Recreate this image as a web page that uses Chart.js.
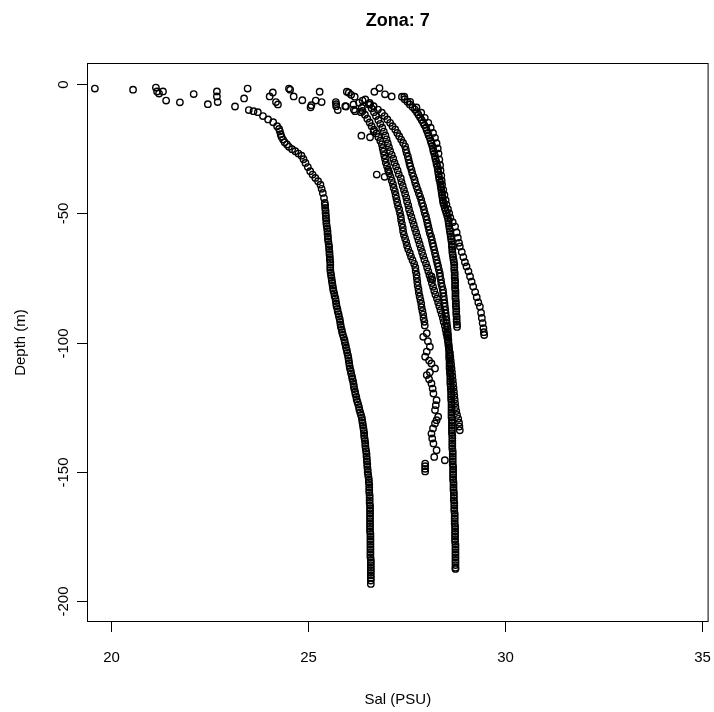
<!DOCTYPE html>
<html>
<head>
<meta charset="utf-8">
<script src="https://cdn.jsdelivr.net/npm/chart.js@4/dist/chart.umd.min.js"></script>
<style>
  html, body { margin: 0; padding: 0; background: #fff; overflow: hidden; }
  canvas { display: block; }
</style>
</head>
<body>
<canvas id="salChart" width="714" height="712"></canvas>
<script>
// axis ticks
const xTicks = [20, 25, 30, 35];
const yTicks = [0, -50, -100, -150, -200];

// [salinity, depth]
const surfacePts = [[19.59,-1.9],[20.56,-2.3],[21.14,-1.5],[21.17,-3.0],[21.22,-3.8],[21.32,-3.0],[21.40,-6.5],[21.75,-7.2],[22.10,-4.0],[22.46,-7.9],[22.69,-3.0],[22.69,-4.9],[22.71,-7.1],[23.15,-8.8],[23.38,-5.7],[23.47,-1.9],[24.03,-4.9],[24.11,-3.4],[24.19,-7.1],[24.24,-8.0],[24.52,-1.9],[24.55,-2.3],[24.64,-4.9],[24.86,-6.4],[25.07,-9.1],[25.09,-8.3],[25.20,-6.5],[25.30,-3.1],[25.35,-7.1],[25.71,-7.1],[25.72,-8.7],[25.72,-7.9],[25.76,-10.2],[25.95,-8.7],[25.97,-8.8],[25.99,-3.1],[26.04,-3.5],[26.10,-4.3],[26.16,-8.0],[26.19,-5.0],[26.17,-10.0],[26.20,-10.6],[26.35,-11.0],[26.37,-9.3],[26.39,-6.5],[26.30,-7.4],[26.58,-8.0],[26.69,-3.1],[26.82,-1.7],[26.96,-4.1],[27.13,-4.9],[26.36,-20.1],[26.58,-20.7],[26.67,-18.4],[26.75,-35.1],[26.95,-36.0],[27.05,-33.8]];

const castA = [[23.50,-10.2],[23.62,-10.6],[23.73,-11.0],[23.86,-12.5],[23.99,-13.8],[24.12,-14.9],[24.22,-16.4],[24.27,-17.5],[24.29,-18.4],[24.31,-19.5],[24.33,-20.5],[24.37,-21.6],[24.41,-22.6],[24.47,-23.5],[24.52,-24.4],[24.60,-25.3],[24.68,-26.1],[24.76,-27.0],[24.84,-27.8],[24.89,-29.2],[24.94,-30.6],[25.00,-32.2],[25.06,-33.8],[25.12,-35.1],[25.19,-36.4],[25.26,-37.7],[25.32,-39.0],[25.35,-40.6],[25.38,-42.2],[25.41,-44.2],[25.43,-46.1],
  [25.44,-47],[25.44,-48],[25.45,-49],[25.45,-50],[25.46,-51],[25.46,-52],[25.47,-53],[25.47,-54],[25.48,-55],[25.49,-56],[25.50,-57],[25.50,-58],[25.51,-59],[25.51,-60],[25.52,-61],[25.53,-62],[25.54,-63],[25.54,-64],[25.55,-65],[25.55,-66],[25.56,-67],[25.56,-68],[25.57,-69],[25.57,-70],[25.57,-71],[25.57,-72],[25.58,-73],[25.59,-74],[25.60,-75],[25.61,-76],[25.62,-77],[25.63,-78],[25.64,-79],[25.65,-80],
  [25.67,-81],[25.68,-82],[25.70,-83],[25.71,-84],[25.72,-85],[25.73,-86],[25.75,-87],[25.76,-88],[25.78,-89],[25.79,-90],[25.81,-91],[25.82,-92],[25.83,-93],[25.84,-94],[25.86,-95],[25.87,-96],[25.89,-97],[25.91,-98],[25.93,-99],[25.94,-100],[25.96,-101],[25.97,-102],[25.99,-103],[26.00,-104],[26.02,-105],[26.03,-106],[26.04,-107],[26.05,-108],[26.06,-109],[26.07,-110],
  [26.09,-111],[26.10,-112],[26.12,-113],[26.13,-114],[26.15,-115],[26.16,-116],[26.17,-117],[26.18,-118],[26.20,-119],[26.21,-120],[26.23,-121],[26.24,-122],[26.26,-123],[26.28,-124],[26.30,-125],[26.31,-126],[26.33,-127],[26.35,-128],[26.37,-129],[26.38,-130],[26.39,-131],[26.40,-132],[26.41,-133],[26.42,-134],[26.43,-135],[26.43,-136],[26.44,-137],[26.45,-138],[26.46,-139],[26.46,-140],
  [26.47,-141],[26.48,-142],[26.49,-143],[26.49,-144],[26.50,-145],[26.50,-146],[26.51,-147],[26.51,-148],[26.52,-149],[26.52,-150],[26.53,-151],[26.54,-152],[26.55,-153],[26.55,-154],[26.56,-155],[26.56,-156],[26.56,-157],[26.56,-158],[26.57,-159],[26.57,-160],[26.57,-161],[26.57,-162],[26.58,-163],[26.58,-164],[26.58,-165],[26.58,-166],[26.58,-167],[26.58,-168],[26.58,-169],[26.58,-170],
  [26.58,-171],[26.58,-172],[26.58,-173],[26.59,-174],[26.59,-175],[26.59,-176],[26.59,-177],[26.59,-178],[26.59,-179],[26.59,-180],[26.59,-181],[26.59,-182],[26.59,-183],[26.60,-184],[26.60,-185],[26.60,-186],[26.60,-187],[26.60,-188],[26.60,-189],[26.60,-190],[26.60,-191],[26.60,-192],[26.60,-193.3]];

const castB = [[26.39,-10.5],[26.45,-12],[26.51,-13.5],[26.57,-15],[26.62,-16.4],[26.68,-17.8],[26.74,-19.2],[26.79,-20.6],[26.84,-22],[26.88,-23.4],[26.90,-24.8],[26.92,-26.2],[26.94,-27.6],[26.96,-29],[26.98,-30.4],[27.01,-31.8],[27.04,-33.2],[27.07,-34.6],[27.10,-36],[27.13,-37.4],[27.16,-38.8],[27.18,-40.2],[27.21,-41.6],[27.23,-43],[27.25,-44.4],[27.27,-45.8],[27.29,-47.2],[27.32,-48.6],[27.34,-50],[27.36,-51.4],
  [27.37,-52.8],[27.39,-54.2],[27.41,-55.6],[27.42,-57],[27.44,-58.4],[27.47,-59.8],[27.50,-61.2],[27.52,-62.6],[27.55,-64],[27.59,-65.4],[27.62,-66.8],[27.66,-68.2],[27.70,-69.6],[27.73,-71],[27.74,-72.4],[27.76,-73.8],[28.14,-74.5],[28.16,-75.6],[27.77,-75.2],[27.78,-76.6],[27.79,-78],[27.81,-79.4],[27.82,-80.8],[27.84,-82.2],[27.86,-83.6],[27.88,-85],[27.89,-86.4],[27.91,-87.8],[27.93,-89.2],[27.94,-90.6],
  [27.96,-92],[27.97,-93.4],[28.02,-96.4],[27.93,-97.8],[28.05,-99.5],[28.10,-101.6],[28.02,-103.5],[27.98,-105.5],[28.08,-107],[28.14,-108.1],[28.23,-110.0],[28.10,-111.5],[28.02,-112.6],[28.08,-114.2],[28.14,-115.8],[28.17,-117.8],[28.19,-119.7],[28.27,-122.3],[28.25,-124.2],[28.23,-126.1],[28.31,-128.7],[28.27,-130],[28.23,-131.3],[28.18,-133.2],[28.14,-135.2],[28.16,-137.1],[28.19,-139.0],[28.27,-141.6],[28.21,-144.2],[28.48,-145.5],
  [27.98,-146.8],[27.98,-147.8],[27.98,-148.8],[27.98,-149.8]];

const castC = [[26.46,-6.1],[26.57,-7.4],[26.67,-8.7],[26.78,-10],[26.88,-11.2],[26.95,-12.5],[27.02,-13.8],[27.09,-15.1],[27.15,-16.4],[27.22,-17.7],[27.27,-19],[27.32,-20.3],[27.37,-21.6],[27.42,-22.9],[27.47,-24.2],[27.49,-25.5],[27.51,-26.8],[27.54,-28.1],[27.56,-29.4],[27.58,-30.7],[27.60,-31.9],[27.63,-33.2],[27.65,-34.5],[27.68,-35.8],[27.71,-37.1],[27.73,-38.4],[27.76,-39.7],[27.79,-41],[27.82,-42.3],[27.85,-43.6],
  [27.88,-44.9],[27.90,-46.2],[27.93,-47.4],[27.95,-48.7],[27.97,-50],[28.00,-51.3],[28.02,-52.6],[28.04,-53.9],[28.06,-55.2],[28.08,-56.5],[28.10,-57.8],[28.13,-59.1],[28.15,-60.4],[28.17,-61.7],[28.19,-62.9],[28.21,-64.2],[28.23,-65.5],[28.25,-66.8],[28.27,-68.1],[28.29,-69.4],[28.31,-70.6],[28.33,-71.9],[28.35,-73.2],[28.36,-74.5],[28.38,-75.8],[28.39,-77.1],[28.41,-78.4],[28.43,-79.7],[28.44,-80.9],[28.45,-82.2],
  [28.46,-83.5],[28.47,-84.8],[28.48,-86.1],[28.49,-87.4],[28.50,-88.7],[28.51,-90],[28.52,-91.3],[28.53,-92.6],[28.54,-93.9],[28.55,-95],
  [28.55,-96],[28.56,-97],[28.56,-98],[28.57,-99],[28.57,-100],[28.58,-101],[28.58,-102],[28.59,-103],[28.59,-104],[28.59,-105],[28.59,-106],[28.60,-107],[28.60,-108],[28.60,-109],[28.60,-110],[28.61,-111],[28.61,-112],[28.62,-113],[28.62,-114],[28.62,-115],[28.62,-116],[28.63,-117],[28.63,-118],[28.64,-119],[28.64,-120],[28.64,-121],[28.64,-122],[28.65,-123],[28.65,-124],[28.65,-125],
  [28.65,-126],[28.65,-127],[28.65,-128],[28.65,-129],[28.66,-130],[28.66,-131],[28.66,-132],[28.66,-133],[28.66,-134],[28.66,-135],[28.67,-136],[28.67,-137],[28.67,-138],[28.67,-139],[28.67,-140],[28.67,-141],[28.68,-142],[28.68,-143],[28.68,-144],[28.68,-145],[28.68,-146],[28.68,-147],[28.69,-148],[28.69,-149],[28.69,-150],[28.69,-151],[28.69,-152],[28.69,-153],[28.70,-154],[28.70,-155],
  [28.70,-156],[28.70,-157],[28.71,-158],[28.71,-159],[28.71,-160],[28.71,-161],[28.72,-162],[28.72,-163],[28.72,-164],[28.72,-165],[28.73,-166],[28.73,-167],[28.73,-168],[28.73,-169],[28.73,-170],[28.74,-171],[28.74,-172],[28.74,-173],[28.74,-174],[28.74,-175],[28.74,-176],[28.74,-177],[28.75,-178],[28.75,-179],[28.75,-180],[28.75,-181],[28.75,-182],[28.75,-183],[28.75,-184],[28.75,-185],
  [28.75,-186],[28.75,-187],[28.75,-187.5]];

const castP = [[26.55,-8],[26.62,-9.5],[26.68,-11],[26.73,-12.5],[26.79,-14],[26.84,-15.5],[26.89,-17],[26.93,-18.5],[26.97,-20],[27.00,-21.5],[27.03,-23],[27.06,-24.5],[27.09,-26],[27.13,-27.5],[27.17,-29],[27.20,-30.5],[27.24,-32],[27.28,-33.5],[27.31,-35],[27.36,-36.5],[27.38,-38],[27.41,-39.5],[27.44,-41],[27.47,-42.5],[27.50,-44],[27.52,-45.5],[27.55,-47],[27.57,-48.5],[27.60,-50],[27.63,-51.5],
  [27.66,-53],[27.69,-54.5],[27.72,-56],[27.75,-57.5],[27.78,-59],[27.81,-60.5],[27.84,-62],[27.87,-63.5],[27.90,-65],[27.93,-66.5],[27.96,-68],[28.00,-69.5],[28.03,-71],[28.06,-72.5],[28.09,-74],[28.12,-75.5],[28.15,-77],[28.18,-78.5],[28.21,-80],[28.24,-81.5],[28.28,-83],[28.31,-84.5],[28.34,-86],[28.37,-87.5],[28.40,-89],[28.43,-90.5],[28.45,-92],[28.48,-93.5],[28.50,-95],[28.52,-96.5],
  [28.54,-98],[28.56,-99.5],[28.57,-101],[28.59,-102.5],[28.61,-104],[28.62,-105.5],[28.63,-107],[28.64,-108.5],[28.65,-110],[28.66,-111.5],[28.67,-113],[28.68,-114.5],[28.69,-116],[28.70,-117.5],[28.71,-119],[28.72,-120.5],[28.73,-122],[28.74,-123.5],[28.75,-125],[28.77,-126.5],[28.79,-128],[28.82,-129.5],[28.84,-131],[28.85,-132.5],[28.86,-133.9]];

const castD = [[27.39,-5],[27.46,-6],[27.53,-7],[27.59,-8],[27.66,-9],[27.72,-10],[27.77,-11],[27.81,-12],[27.85,-13],[27.89,-14],[27.93,-15],[27.96,-16],[28.00,-17],[28.02,-18],[28.05,-19],[28.07,-20],[28.10,-21],[28.12,-22],[28.14,-23],[28.16,-24],[28.18,-25],[28.19,-26],[28.21,-27],[28.23,-28],[28.24,-29],[28.26,-30],[28.27,-31],[28.29,-32],[28.30,-33],[28.31,-34],
  [28.32,-35],[28.33,-36],[28.34,-37],[28.36,-38],[28.37,-39],[28.38,-40],[28.39,-41],[28.40,-42],[28.41,-43],[28.42,-44],[28.43,-45],[28.44,-46],[28.46,-47],[28.48,-48],[28.50,-49],[28.52,-50],[28.54,-51],[28.56,-52],[28.57,-53],[28.58,-54],[28.59,-55],[28.60,-56],[28.61,-57],[28.62,-58],[28.63,-59],[28.64,-60],[28.65,-61],[28.66,-62],[28.66,-63],[28.67,-64],
  [28.67,-65],[28.68,-66],[28.69,-67],[28.70,-68],[28.71,-69],[28.72,-70],[28.72,-71],[28.72,-72],[28.73,-73],[28.73,-74],[28.73,-75],[28.74,-76],[28.74,-77],[28.74,-78],[28.74,-79],[28.75,-80],[28.75,-81],[28.75,-82],[28.75,-83],[28.76,-84],[28.76,-85],[28.76,-86],[28.77,-87],[28.77,-88],[28.77,-89],[28.78,-90],[28.78,-91],[28.78,-92],[28.79,-93],[28.79,-94]];

const castE = [[27.45,-5],[27.60,-7],[27.76,-9.2],[27.88,-11.2],[27.97,-13.2],[28.06,-15.1],[28.12,-17],[28.18,-19],[28.23,-20.9],[28.27,-23],[28.30,-25],[28.32,-27],[28.34,-29.3],[28.36,-31.5],[28.37,-33.5],[28.39,-35.5],[28.40,-37.5],[28.41,-39],[28.44,-41],[28.47,-43],[28.50,-45],[28.52,-46.7],[28.56,-48.5],[28.59,-50],[28.62,-51.8],[28.68,-53.5],[28.74,-55.2],[28.78,-57.5],[28.81,-59.5],[28.84,-61.5],[28.86,-62.9],[28.91,-65],[28.95,-67],[28.99,-69],[29.03,-70.6],[29.08,-72.5],[29.12,-74.5],[29.16,-76.5],[29.20,-78.4],[29.25,-80.5],[29.29,-82.5],[29.33,-84.5],[29.37,-86.1],[29.40,-88.5],[29.42,-90.5],[29.44,-92.5],[29.46,-94.5],[29.47,-96],[29.48,-97.1]];

const casts = [surfacePts, castA, castB, castC, castP, castD, castE];

const FONT = '"Liberation Sans", Arial, Helvetica, sans-serif';

// R style box, ticks and labels
const rAxes = {
    id: 'rAxes',
    afterDraw(chart) {
        const { ctx, chartArea: a, scales: { x, y } } = chart;
        ctx.save();
        ctx.strokeStyle = '#000';
        ctx.fillStyle = '#000';
        ctx.lineWidth = 1;
        ctx.strokeRect(a.left + 0.5, a.top + 0.5, a.right - a.left - 1, a.bottom - a.top - 1);

        ctx.font = '15px ' + FONT;
        ctx.textAlign = 'center';
        ctx.textBaseline = 'middle';
        xTicks.forEach(v => {
            const px = Math.round(x.getPixelForValue(v)) + 0.5;
            ctx.beginPath();
            ctx.moveTo(px, a.bottom);
            ctx.lineTo(px, a.bottom + 10);
            ctx.stroke();
            ctx.fillText(String(v), px, a.bottom + 36);
        });
        yTicks.forEach(v => {
            const py = Math.round(y.getPixelForValue(v)) + 0.5;
            ctx.beginPath();
            ctx.moveTo(a.left - 10, py);
            ctx.lineTo(a.left, py);
            ctx.stroke();
            ctx.save();
            ctx.translate(a.left - 23, py);
            ctx.rotate(-Math.PI / 2);
            ctx.fillText(String(v), 0, 0);
            ctx.restore();
        });

        const cx = (a.left + a.right) / 2;
        const cy = (a.top + a.bottom) / 2;
        ctx.fillText('Sal (PSU)', cx, 700);
        ctx.save();
        ctx.translate(21, cy);
        ctx.rotate(-Math.PI / 2);
        ctx.fillText('Depth (m)', 0, 0);
        ctx.restore();

        ctx.font = 'bold 18px ' + FONT;
        ctx.fillText('Zona: 7', cx, 21);
        ctx.restore();
    }
};

new Chart(document.getElementById('salChart').getContext('2d'), {
    type: 'scatter',
    data: {
        datasets: casts.map(c => ({
            data: c.map(p => ({ x: p[0], y: p[1] })),
            pointStyle: 'circle',
            pointRadius: 3.2,
            pointBorderWidth: 1.4,
            pointBorderColor: '#000',
            pointBackgroundColor: 'rgba(0,0,0,0)'
        }))
    },
    options: {
        responsive: false,
        animation: false,
        devicePixelRatio: 1,
        layout: { padding: { left: 87, top: 63, right: 3, bottom: 90 } },
        plugins: { legend: { display: false }, tooltip: { enabled: false } },
        scales: {
            x: { type: 'linear', min: 19.39, max: 35.18, display: false },
            y: { type: 'linear', min: -208, max: 8, display: false }
        }
    },
    plugins: [rAxes]
});
</script>
</body>
</html>
